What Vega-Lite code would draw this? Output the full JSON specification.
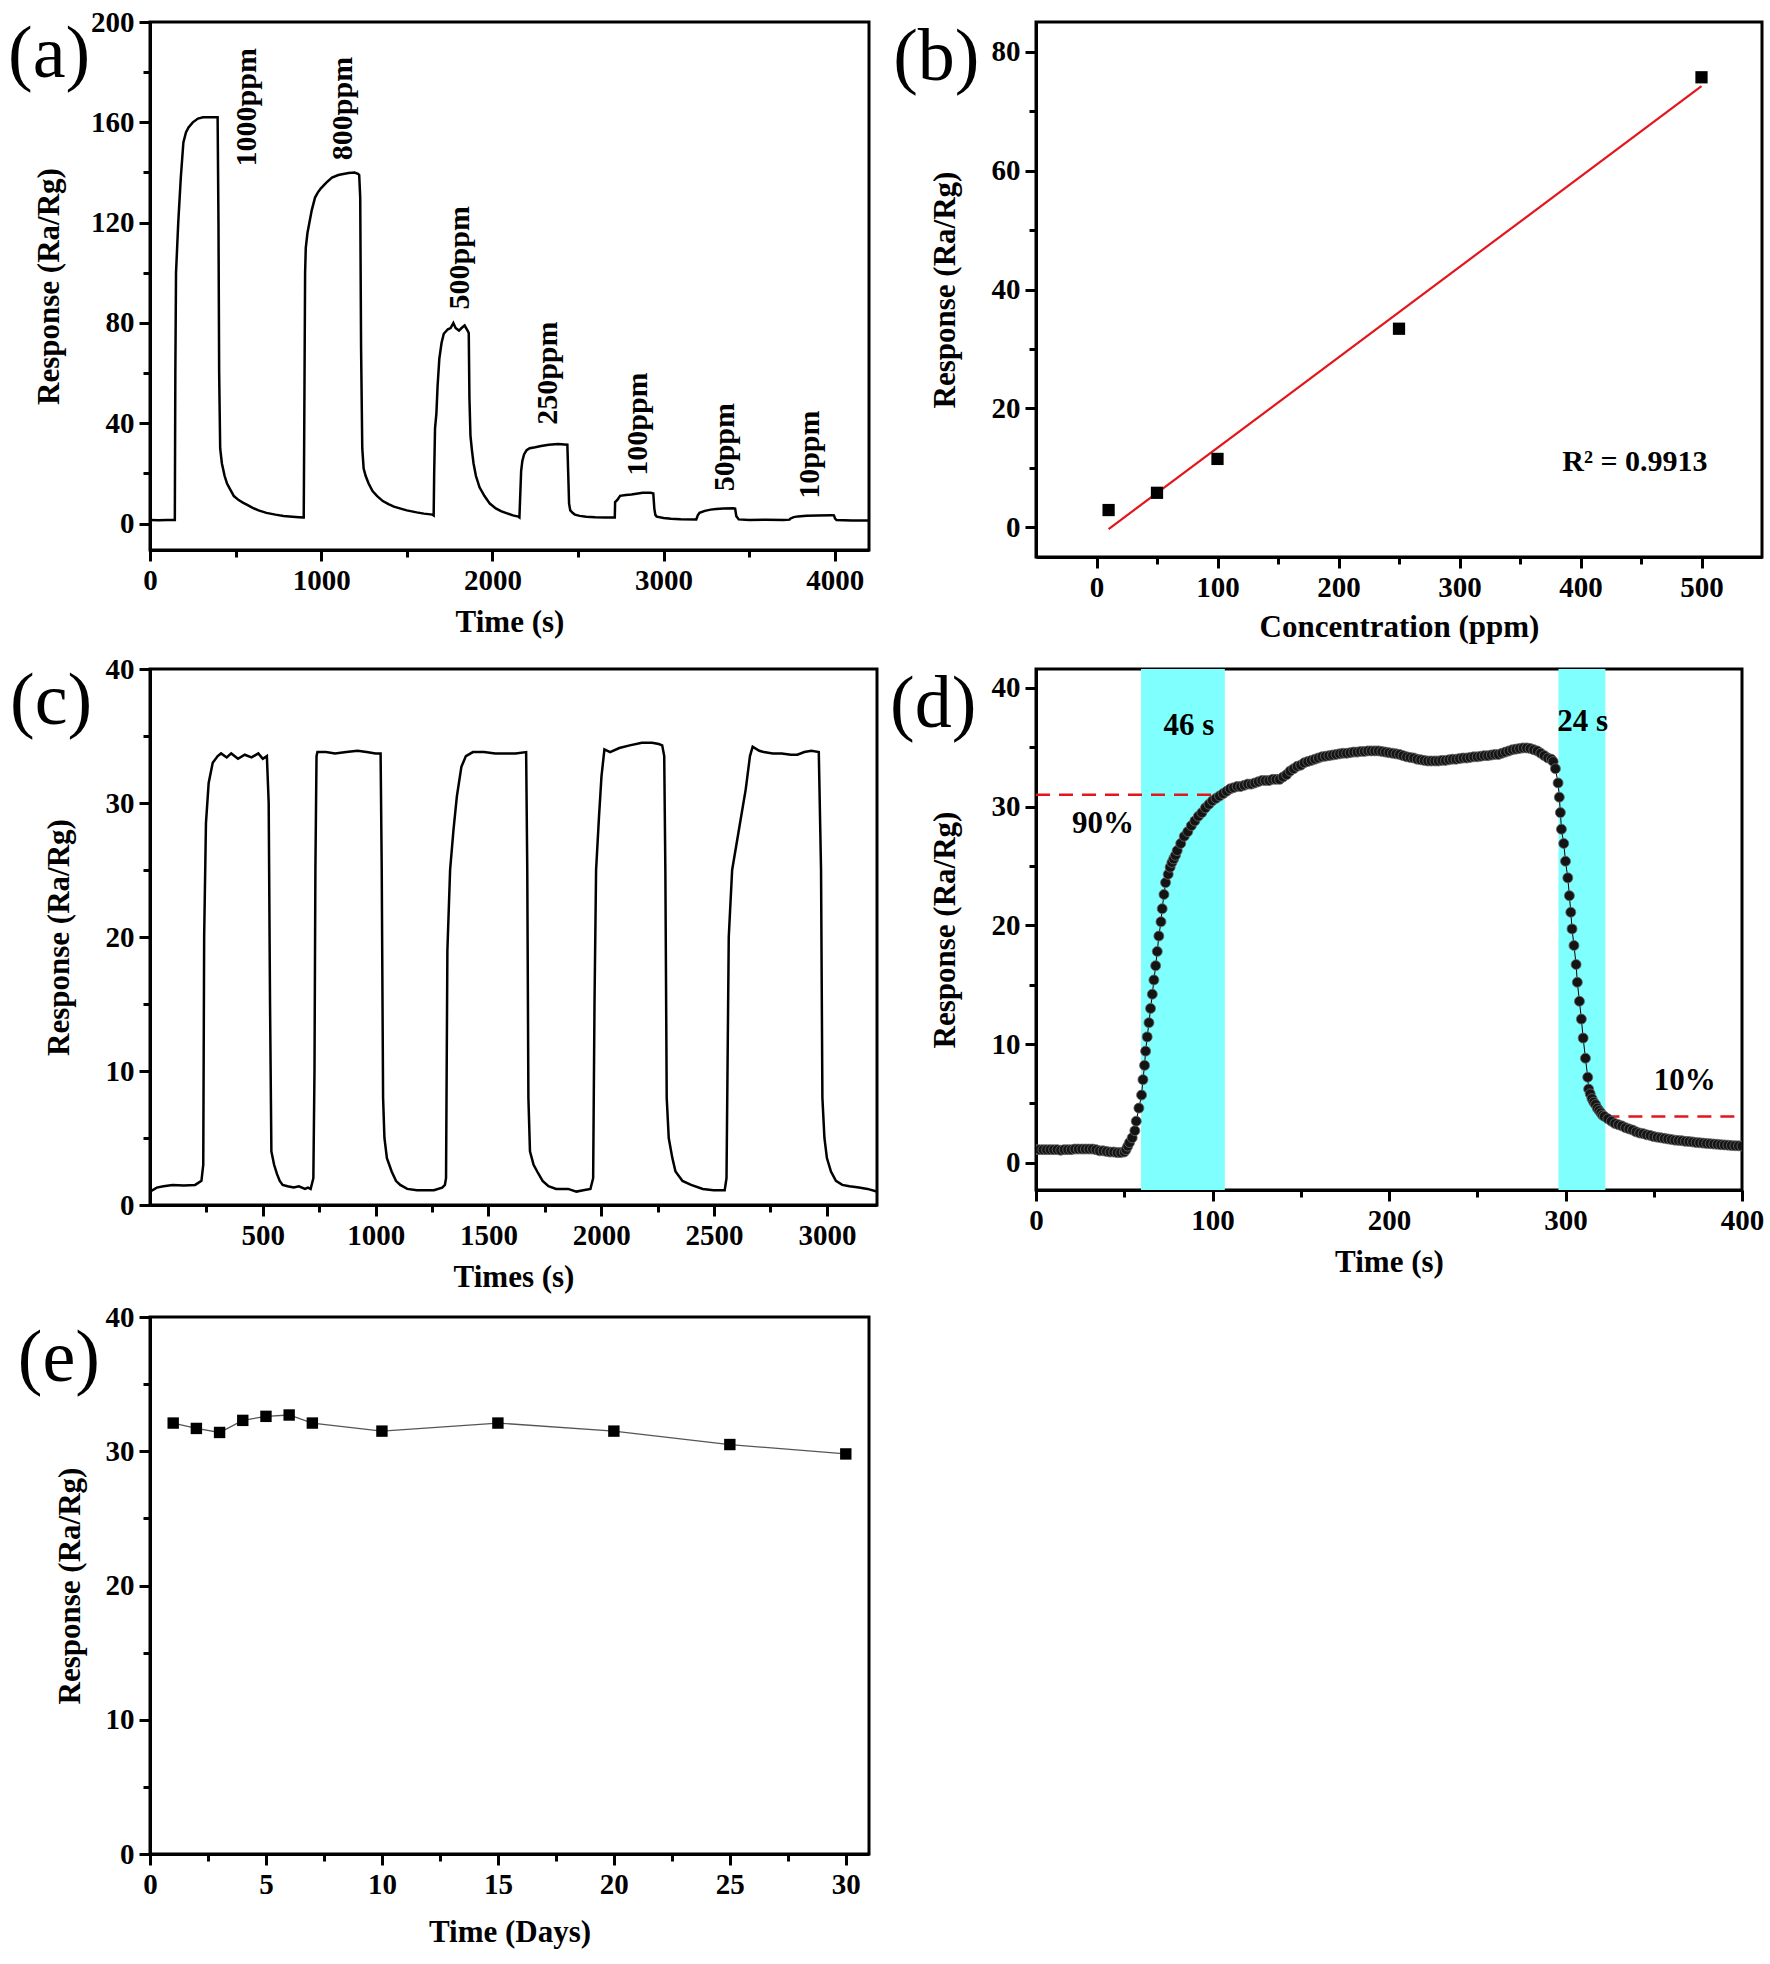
{
  "$schema": "https://vega.github.io/schema/vega-lite/v6.json",
  "background": "white",
  "padding": {"left": 6, "top": 6, "right": 5, "bottom": 5},
  "columns": 2,
  "bounds": "flush",
  "spacing": {"row": 112, "column": 159},
  "config": {
    "view": {"stroke": "black", "strokeWidth": 3},
    "axis": {"domainColor": "black", "domainWidth": 3, "tickColor": "black", "tickWidth": 3, "tickSize": 11, "labelFont": "Liberation Serif", "labelFontWeight": "bold", "labelFontSize": 29, "labelColor": "black", "labelPadding": 5, "titleFont": "Liberation Serif", "titleFontWeight": "bold", "titleFontSize": 31, "titleColor": "black", "grid": false, "labelFlush": false, "labelOverlap": false},
    "text": {"font": "Liberation Serif", "color": "black"}
  },
  "datasets": {
    "a": [
      {"t":0,"v":1.5},{"t":50,"v":1.4},{"t":100,"v":1.5},{"t":145,"v":1.5},{"t":148,"v":60},{"t":152,"v":100},{"t":165,"v":120},{"t":180,"v":138},{"t":195,"v":152},{"t":210,"v":156},{"t":225,"v":158},{"t":250,"v":160},{"t":280,"v":161.5},{"t":310,"v":162},{"t":350,"v":162},{"t":395,"v":162},{"t":400,"v":120},{"t":404,"v":60},{"t":410,"v":30},{"t":420,"v":24},{"t":436,"v":19},{"t":450,"v":16},{"t":469,"v":13.6},{"t":490,"v":11},{"t":518,"v":9.4},{"t":545,"v":8.3},{"t":568,"v":7.5},{"t":600,"v":6.3},{"t":634,"v":5.3},{"t":680,"v":4.3},{"t":733,"v":3.6},{"t":780,"v":3.1},{"t":832,"v":2.8},{"t":870,"v":2.6},{"t":895,"v":2.5},
      {"t":898,"v":2.5},{"t":902,"v":50},{"t":906,"v":100},{"t":910,"v":110},{"t":920,"v":116},{"t":931,"v":120},{"t":945,"v":125},{"t":964,"v":130},{"t":980,"v":132},{"t":997,"v":133.6},{"t":1030,"v":136},{"t":1063,"v":138},{"t":1100,"v":139},{"t":1129,"v":139.4},{"t":1160,"v":139.8},{"t":1195,"v":140},{"t":1215,"v":139.5},{"t":1222,"v":139},{"t":1228,"v":130},{"t":1233,"v":70},{"t":1240,"v":30},{"t":1248,"v":22},{"t":1260,"v":19},{"t":1277,"v":16},{"t":1300,"v":13},{"t":1327,"v":11},{"t":1360,"v":9},{"t":1393,"v":7.8},{"t":1425,"v":6.8},{"t":1459,"v":6.1},{"t":1500,"v":5.3},{"t":1558,"v":4.5},{"t":1600,"v":4.0},{"t":1650,"v":3.6},
      {"t":1657,"v":3.3},{"t":1660,"v":20},{"t":1665,"v":38},{"t":1673,"v":44},{"t":1680,"v":55},{"t":1690,"v":65.7},{"t":1703,"v":72},{"t":1716,"v":75.7},{"t":1740,"v":77.5},{"t":1756,"v":78},{"t":1772,"v":80},{"t":1785,"v":78},{"t":1805,"v":77},{"t":1820,"v":78},{"t":1838,"v":79},{"t":1855,"v":77},{"t":1862,"v":76},{"t":1866,"v":50},{"t":1872,"v":35},{"t":1881,"v":29},{"t":1890,"v":24},{"t":1904,"v":19},{"t":1925,"v":14.5},{"t":1954,"v":11},{"t":1985,"v":8},{"t":2020,"v":6.1},{"t":2050,"v":5.0},{"t":2086,"v":4.1},{"t":2120,"v":3.3},{"t":2152,"v":2.8},
      {"t":2158,"v":2.5},{"t":2162,"v":10},{"t":2168,"v":21},{"t":2175,"v":25},{"t":2185,"v":27.6},{"t":2200,"v":29.3},{"t":2218,"v":30.1},{"t":2250,"v":30.5},{"t":2284,"v":31},{"t":2330,"v":31.5},{"t":2383,"v":31.8},{"t":2420,"v":31.6},{"t":2438,"v":31.5},{"t":2443,"v":20},{"t":2448,"v":8},{"t":2455,"v":5.3},{"t":2470,"v":4.2},{"t":2482,"v":3.6},{"t":2510,"v":3.1},{"t":2548,"v":2.8},{"t":2600,"v":2.6},{"t":2660,"v":2.5},{"t":2713,"v":2.5},
      {"t":2715,"v":2.5},{"t":2717,"v":8.6},{"t":2730,"v":9.5},{"t":2746,"v":11.1},{"t":2780,"v":11.4},{"t":2812,"v":11.6},{"t":2850,"v":12.0},{"t":2878,"v":12.3},{"t":2925,"v":12.3},{"t":2940,"v":12},{"t":2946,"v":6},{"t":2952,"v":3.5},{"t":2960,"v":2.8},{"t":3000,"v":2.3},{"t":3043,"v":2.0},{"t":3100,"v":1.8},{"t":3191,"v":1.7},
      {"t":3200,"v":3.3},{"t":3210,"v":4.3},{"t":3241,"v":5.1},{"t":3275,"v":5.6},{"t":3307,"v":5.8},{"t":3350,"v":6.0},{"t":3406,"v":6.1},{"t":3418,"v":6.0},{"t":3425,"v":3.0},{"t":3439,"v":1.7},{"t":3500,"v":1.5},{"t":3600,"v":1.6},{"t":3700,"v":1.5},{"t":3736,"v":1.6},
      {"t":3740,"v":2.0},{"t":3760,"v":2.6},{"t":3785,"v":2.9},{"t":3835,"v":3.2},{"t":3900,"v":3.3},{"t":3983,"v":3.4},{"t":3995,"v":3.3},{"t":4002,"v":2.0},{"t":4010,"v":1.5},{"t":4100,"v":1.3},{"t":4200,"v":1.3}
    ],
    "a_lab": [
      {"t":565,"v":166,"label":"1000ppm"},{"t":1125,"v":165.5,"label":"800ppm"},{"t":1810,"v":106,"label":"500ppm"},{"t":2325,"v":60,"label":"250ppm"},{"t":2853,"v":39.7,"label":"100ppm"},{"t":3360,"v":30.5,"label":"50ppm"},{"t":3858,"v":27.5,"label":"10ppm"}
    ],
    "b_pts": [
      {"c":10,"r":2.9},{"c":50,"r":5.8},{"c":100,"r":11.5},{"c":250,"r":33.4},{"c":500,"r":75.7}
    ],
    "b_fit": [
      {"c":10,"r":-0.3},{"c":500,"r":74.2}
    ],
    "c": [
      {"t":0,"v":1.0},{"t":30,"v":1.3},{"t":60,"v":1.4},{"t":100,"v":1.5},{"t":150,"v":1.45},{"t":200,"v":1.5},{"t":228,"v":1.8},{"t":236,"v":3},{"t":240,"v":20},{"t":248,"v":28.5},{"t":260,"v":31.5},{"t":278,"v":33},{"t":300,"v":33.5},{"t":315,"v":33.7},{"t":340,"v":33.4},{"t":360,"v":33.7},{"t":390,"v":33.3},{"t":420,"v":33.6},{"t":450,"v":33.4},{"t":480,"v":33.7},{"t":500,"v":33.3},{"t":518,"v":33.5},{"t":526,"v":30},{"t":532,"v":15},{"t":538,"v":4},{"t":550,"v":3},{"t":563,"v":2.3},{"t":575,"v":1.8},{"t":588,"v":1.5},{"t":610,"v":1.4},{"t":637,"v":1.3},{"t":660,"v":1.4},{"t":687,"v":1.2},{"t":700,"v":1.3},{"t":712,"v":1.2},
      {"t":724,"v":2},{"t":729,"v":10},{"t":733,"v":25},{"t":738,"v":33.5},{"t":742,"v":33.8},{"t":780,"v":33.8},{"t":820,"v":33.7},{"t":870,"v":33.8},{"t":920,"v":33.9},{"t":960,"v":33.8},{"t":1000,"v":33.7},{"t":1022,"v":33.7},{"t":1027,"v":25},{"t":1033,"v":8},{"t":1039,"v":5},{"t":1050,"v":3.5},{"t":1071,"v":2.5},{"t":1090,"v":1.8},{"t":1109,"v":1.5},{"t":1140,"v":1.2},{"t":1183,"v":1.1},{"t":1220,"v":1.1},{"t":1258,"v":1.1},{"t":1295,"v":1.3},{"t":1307,"v":1.5},
      {"t":1312,"v":2},{"t":1318,"v":19},{"t":1330,"v":25},{"t":1345,"v":28},{"t":1360,"v":30.5},{"t":1380,"v":32.7},{"t":1400,"v":33.5},{"t":1431,"v":33.8},{"t":1480,"v":33.8},{"t":1530,"v":33.7},{"t":1580,"v":33.7},{"t":1620,"v":33.7},{"t":1667,"v":33.8},{"t":1672,"v":25},{"t":1677,"v":8},{"t":1684,"v":4},{"t":1700,"v":3},{"t":1716,"v":2.5},{"t":1740,"v":1.8},{"t":1766,"v":1.4},{"t":1800,"v":1.2},{"t":1853,"v":1.2},{"t":1890,"v":1.0},{"t":1920,"v":1.1},{"t":1952,"v":1.2},
      {"t":1964,"v":2},{"t":1970,"v":15},{"t":1977,"v":25},{"t":1990,"v":29},{"t":2001,"v":32},{"t":2014,"v":34},{"t":2039,"v":33.8},{"t":2080,"v":34.1},{"t":2126,"v":34.3},{"t":2180,"v":34.5},{"t":2225,"v":34.5},{"t":2255,"v":34.4},{"t":2270,"v":34.3},{"t":2279,"v":33.5},{"t":2284,"v":25},{"t":2290,"v":8},{"t":2299,"v":5},{"t":2315,"v":3.5},{"t":2329,"v":2.5},{"t":2360,"v":1.8},{"t":2398,"v":1.5},{"t":2450,"v":1.2},{"t":2498,"v":1.1},{"t":2547,"v":1.1},
      {"t":2555,"v":2},{"t":2565,"v":20},{"t":2580,"v":25},{"t":2610,"v":28},{"t":2640,"v":31},{"t":2659,"v":33.5},{"t":2671,"v":34.2},{"t":2700,"v":33.9},{"t":2720,"v":33.8},{"t":2760,"v":33.7},{"t":2800,"v":33.7},{"t":2840,"v":33.6},{"t":2869,"v":33.6},{"t":2900,"v":33.8},{"t":2931,"v":33.9},{"t":2964,"v":33.8},{"t":2974,"v":25},{"t":2980,"v":8},{"t":2989,"v":5},{"t":3000,"v":3.5},{"t":3018,"v":2.5},{"t":3040,"v":1.8},{"t":3068,"v":1.5},{"t":3100,"v":1.4},{"t":3142,"v":1.3},{"t":3180,"v":1.2},{"t":3221,"v":1.0}
    ],
    "d": [
      {"t":0,"v":1.1},{"t":2,"v":1.1},{"t":4,"v":1.1},{"t":6,"v":1.1},{"t":8,"v":1.1},{"t":10,"v":1.1},{"t":12,"v":1.1},{"t":14,"v":1.05},{"t":16,"v":1.1},{"t":18,"v":1.1},{"t":20,"v":1.1},{"t":22,"v":1.15},{"t":24,"v":1.15},{"t":26,"v":1.15},{"t":28,"v":1.15},{"t":30,"v":1.15},{"t":32,"v":1.15},{"t":34,"v":1.1},{"t":36,"v":1.0},{"t":38,"v":1.0},{"t":40,"v":0.95},{"t":42,"v":0.9},{"t":44,"v":0.9},{"t":46,"v":0.85},{"t":48,"v":0.85},{"t":50,"v":0.9},{"t":51,"v":1.1},{"t":52,"v":1.4},{"t":53,"v":1.7},{"t":54.5,"v":2.1},{"t":56,"v":2.7},{"t":56.8,"v":3.5},{"t":58.3,"v":4.6},{"t":59.8,"v":5.7},{"t":60.6,"v":7.0},{"t":61.5,"v":8.2},{"t":62.1,"v":9.4},{"t":63.0,"v":10.6},{"t":64.0,"v":11.8},{"t":64.9,"v":13.0},{"t":65.9,"v":14.2},{"t":66.8,"v":15.4},{"t":67.8,"v":16.6},{"t":68.7,"v":17.8},{"t":69.6,"v":19.1},{"t":70.8,"v":20.3},{"t":71.5,"v":21.4},{"t":72.5,"v":22.6},{"t":73.4,"v":23.6},{"t":74.9,"v":24.3},{"t":76,"v":24.9},{"t":77,"v":25.3},{"t":78,"v":25.6},{"t":79,"v":25.9},{"t":80,"v":26.3},{"t":82,"v":26.9},{"t":84,"v":27.5},{"t":86,"v":27.9},{"t":88,"v":28.4},{"t":90,"v":28.8},{"t":92,"v":29.2},{"t":94,"v":29.5},{"t":96,"v":29.9},{"t":98,"v":30.2},{"t":100,"v":30.5},{"t":102,"v":30.7},{"t":104,"v":30.9},{"t":106,"v":31.1},{"t":108,"v":31.3},{"t":110,"v":31.5},{"t":112,"v":31.6},{"t":114,"v":31.7},{"t":116,"v":31.7},{"t":118,"v":31.8},{"t":120,"v":31.9},{"t":122,"v":31.9},{"t":124,"v":32.0},{"t":126,"v":32.1},{"t":128,"v":32.2},{"t":130,"v":32.2},{"t":132,"v":32.2},{"t":134,"v":32.3},{"t":136,"v":32.3},{"t":138,"v":32.3},{"t":140,"v":32.5},{"t":142,"v":32.7},{"t":144,"v":33.0},{"t":146,"v":33.2},{"t":148,"v":33.4},{"t":150,"v":33.5},{"t":152,"v":33.7},{"t":154,"v":33.8},{"t":156,"v":33.9},{"t":158,"v":34.0},{"t":160,"v":34.1},{"t":162,"v":34.2},{"t":164,"v":34.25},{"t":166,"v":34.3},{"t":168,"v":34.35},{"t":170,"v":34.4},{"t":172,"v":34.45},{"t":174,"v":34.5},{"t":176,"v":34.5},{"t":178,"v":34.55},{"t":180,"v":34.6},{"t":182,"v":34.6},{"t":184,"v":34.65},{"t":186,"v":34.65},{"t":188,"v":34.7},{"t":190,"v":34.7},{"t":192,"v":34.7},{"t":194,"v":34.7},{"t":196,"v":34.65},{"t":198,"v":34.6},{"t":200,"v":34.55},{"t":202,"v":34.5},{"t":204,"v":34.45},{"t":206,"v":34.4},{"t":208,"v":34.3},{"t":210,"v":34.2},{"t":212,"v":34.15},{"t":214,"v":34.1},{"t":216,"v":34.0},{"t":218,"v":33.95},{"t":220,"v":33.9},{"t":222,"v":33.85},{"t":224,"v":33.85},{"t":226,"v":33.85},{"t":228,"v":33.85},{"t":230,"v":33.9},{"t":232,"v":33.9},{"t":234,"v":33.95},{"t":236,"v":34.0},{"t":238,"v":34.0},{"t":240,"v":34.05},{"t":242,"v":34.1},{"t":244,"v":34.1},{"t":246,"v":34.15},{"t":248,"v":34.2},{"t":250,"v":34.2},{"t":252,"v":34.25},{"t":254,"v":34.3},{"t":256,"v":34.3},{"t":258,"v":34.35},{"t":260,"v":34.4},{"t":262,"v":34.4},{"t":264,"v":34.5},{"t":266,"v":34.6},{"t":268,"v":34.7},{"t":270,"v":34.8},{"t":272,"v":34.85},{"t":274,"v":34.9},{"t":276,"v":34.95},{"t":278,"v":34.95},{"t":280,"v":34.9},{"t":282,"v":34.8},{"t":284,"v":34.7},{"t":286,"v":34.5},{"t":288,"v":34.3},{"t":290,"v":34.1},{"t":292,"v":34.0},{"t":293,"v":33.8},{"t":294.3,"v":33.2},{"t":295.8,"v":32.0},{"t":296.5,"v":30.8},{"t":297.1,"v":29.5},{"t":297.7,"v":28.1},{"t":299.0,"v":26.9},{"t":300.0,"v":25.4},{"t":301.3,"v":24.0},{"t":302.2,"v":22.5},{"t":303.0,"v":21.1},{"t":303.7,"v":19.7},{"t":304.8,"v":18.3},{"t":306.0,"v":16.7},{"t":306.7,"v":15.2},{"t":307.9,"v":13.6},{"t":309.0,"v":12.1},{"t":310.0,"v":10.5},{"t":311.3,"v":8.8},{"t":312.6,"v":7.2},{"t":313.1,"v":6.2},{"t":314,"v":5.8},{"t":315,"v":5.4},{"t":316,"v":5.1},{"t":317,"v":4.9},{"t":318,"v":4.6},{"t":319,"v":4.4},{"t":320,"v":4.2},{"t":321,"v":4.0},{"t":322,"v":3.9},{"t":324,"v":3.7},{"t":326,"v":3.5},{"t":328,"v":3.3},{"t":330,"v":3.2},{"t":332,"v":3.1},{"t":334,"v":2.95},{"t":336,"v":2.85},{"t":338,"v":2.75},{"t":340,"v":2.6},{"t":342,"v":2.5},{"t":344,"v":2.45},{"t":346,"v":2.35},{"t":348,"v":2.3},{"t":350,"v":2.2},{"t":352,"v":2.15},{"t":354,"v":2.1},{"t":356,"v":2.05},{"t":358,"v":2.0},{"t":360,"v":1.95},{"t":362,"v":1.9},{"t":364,"v":1.88},{"t":366,"v":1.85},{"t":368,"v":1.8},{"t":370,"v":1.78},{"t":372,"v":1.75},{"t":374,"v":1.7},{"t":376,"v":1.68},{"t":378,"v":1.65},{"t":380,"v":1.62},{"t":382,"v":1.6},{"t":384,"v":1.57},{"t":386,"v":1.55},{"t":388,"v":1.52},{"t":390,"v":1.5},{"t":392,"v":1.48},{"t":394,"v":1.45},{"t":396,"v":1.43},{"t":398,"v":1.42},{"t":400,"v":1.4}
    ],
    "d_band": [{"t":59.5,"t2":107},{"t":296,"t2":322.6}],
    "d_rule": [{"t":0,"t2":107,"v":31},{"t":322.6,"t2":400,"v":3.9}],
    "d_lab": [{"t":86.7,"v":36.8,"label":"46 s"},{"t":309.7,"v":37.1,"label":"24 s"},{"t":37.9,"v":28.5,"label":"90%"},{"t":367.5,"v":6.9,"label":"10%"}],
    "e": [
      {"day":1,"r":32.1},{"day":2,"r":31.7},{"day":3,"r":31.4},{"day":4,"r":32.3},{"day":5,"r":32.6},{"day":6,"r":32.7},{"day":7,"r":32.1},{"day":10,"r":31.5},{"day":15,"r":32.1},{"day":20,"r":31.5},{"day":25,"r":30.5},{"day":30,"r":29.8}
    ]
  },
  "concat": [
    {
      "width": 719, "height": 528,
      "layer": [
        {
          "data": {"name": "a"},
          "mark": {"type": "line", "color": "black", "strokeWidth": 2.5, "clip": true},
          "encoding": {
            "x": {"field": "t", "type": "quantitative", "title": "Time (s)", "scale": {"domain": [0, 4200], "nice": false, "zero": false},
              "axis": {"values": [0,500,1000,1500,2000,2500,3000,3500,4000], "format": "d", "labelExpr": "datum.value % 1000 === 0 ? datum.label : ''", "tickSize": {"condition": {"test": "datum.value % 1000 === 0", "value": 11}, "value": 7}, "titlePadding": 12}},
            "y": {"field": "v", "type": "quantitative", "title": "Response (Ra/Rg)", "scale": {"domain": [-10.5, 200], "nice": false, "zero": false},
              "axis": {"values": [0,20,40,60,80,100,120,140,160,180,200], "format": "d", "labelExpr": "datum.value % 40 === 0 ? datum.label : ''", "tickSize": {"condition": {"test": "datum.value % 40 === 0", "value": 11}, "value": 7}, "titlePadding": 25}}
          }
        },
        {
          "data": {"name": "a_lab"},
          "mark": {"type": "text", "angle": 270, "fontSize": 30, "fontWeight": "bold", "align": "center", "baseline": "middle"},
          "encoding": {
            "x": {"field": "t", "type": "quantitative", "title": "Time (s)"},
            "y": {"field": "v", "type": "quantitative", "title": "Response (Ra/Rg)"},
            "text": {"field": "label"}
          }
        },
        {
          "data": {"values": [{}]},
          "mark": {"type": "text", "fontSize": 74, "align": "left", "baseline": "alphabetic"},
          "encoding": {"x": {"datum": -829}, "y": {"datum": 178}, "text": {"value": "(a)"}}
        }
      ]
    },
    {
      "width": 726, "height": 535,
      "layer": [
        {
          "data": {"name": "b_fit"},
          "mark": {"type": "line", "color": "#e3161c", "strokeWidth": 2.2},
          "encoding": {
            "x": {"field": "c", "type": "quantitative", "title": "Concentration (ppm)", "scale": {"domain": [-50, 550], "nice": false, "zero": false},
              "axis": {"values": [0,50,100,150,200,250,300,350,400,450,500], "format": "d", "labelExpr": "datum.value % 100 === 0 ? datum.label : ''", "tickSize": {"condition": {"test": "datum.value % 100 === 0", "value": 11}, "value": 7}, "titlePadding": 10}},
            "y": {"field": "r", "type": "quantitative", "title": "Response (Ra/Rg)", "scale": {"domain": [-5, 85], "nice": false, "zero": false},
              "axis": {"values": [0,10,20,30,40,50,60,70,80], "format": "d", "labelExpr": "datum.value % 20 === 0 ? datum.label : ''", "tickSize": {"condition": {"test": "datum.value % 20 === 0", "value": 11}, "value": 7}, "titlePadding": 30}}
          }
        },
        {
          "data": {"name": "b_pts"},
          "mark": {"type": "square", "color": "black", "filled": true, "opacity": 1, "size": 150},
          "encoding": {
            "x": {"field": "c", "type": "quantitative", "title": "Concentration (ppm)"},
            "y": {"field": "r", "type": "quantitative", "title": "Response (Ra/Rg)"}
          }
        },
        {
          "data": {"values": [{}]},
          "mark": {"type": "text", "fontSize": 30, "fontWeight": "bold", "align": "center", "baseline": "middle"},
          "encoding": {"x": {"datum": 445}, "y": {"datum": 10.9}, "text": {"value": "R² = 0.9913"}}
        },
        {
          "data": {"values": [{}]},
          "mark": {"type": "text", "fontSize": 74, "align": "left", "baseline": "alphabetic"},
          "encoding": {"x": {"datum": -168}, "y": {"datum": 75.3}, "text": {"value": "(b)"}}
        }
      ]
    },
    {
      "width": 727, "height": 536,
      "layer": [
        {
          "data": {"name": "c"},
          "mark": {"type": "line", "color": "black", "strokeWidth": 2.5, "clip": true},
          "encoding": {
            "x": {"field": "t", "type": "quantitative", "title": "Times (s)", "scale": {"domain": [0, 3222], "nice": false, "zero": false},
              "axis": {"values": [250,500,750,1000,1250,1500,1750,2000,2250,2500,2750,3000], "format": "d", "labelExpr": "datum.value % 500 === 0 ? datum.label : ''", "tickSize": {"condition": {"test": "datum.value % 500 === 0", "value": 11}, "value": 7}, "titlePadding": 12}},
            "y": {"field": "v", "type": "quantitative", "title": "Response (Ra/Rg)", "scale": {"domain": [0, 40], "nice": false, "zero": false},
              "axis": {"values": [0,5,10,15,20,25,30,35,40], "format": "d", "labelExpr": "datum.value % 10 === 0 ? datum.label : ''", "tickSize": {"condition": {"test": "datum.value % 10 === 0", "value": 11}, "value": 7}, "titlePadding": 30}}
          }
        },
        {
          "data": {"values": [{}]},
          "mark": {"type": "text", "fontSize": 74, "align": "left", "baseline": "alphabetic"},
          "encoding": {"x": {"datum": -620}, "y": {"datum": 35.9}, "text": {"value": "(c)"}}
        }
      ]
    },
    {
      "width": 706, "height": 521,
      "layer": [
        {
          "data": {"name": "d_band"},
          "mark": {"type": "rect", "color": "#80ffff", "opacity": 1},
          "encoding": {
            "x": {"field": "t", "type": "quantitative", "title": "Time (s)", "scale": {"domain": [0, 400], "nice": false, "zero": false},
              "axis": {"values": [0,50,100,150,200,250,300,350,400], "format": "d", "labelExpr": "datum.value % 100 === 0 ? datum.label : ''", "tickSize": {"condition": {"test": "datum.value % 100 === 0", "value": 11}, "value": 7}, "titlePadding": 12}},
            "x2": {"field": "t2"}
          }
        },
        {
          "data": {"name": "d_rule"},
          "mark": {"type": "rule", "color": "#e3161c", "strokeWidth": 2.5, "strokeDash": [14, 9]},
          "encoding": {
            "x": {"field": "t", "type": "quantitative", "title": "Time (s)"},
            "x2": {"field": "t2"},
            "y": {"field": "v", "type": "quantitative", "title": "Response (Ra/Rg)"}
          }
        },
        {
          "data": {"name": "d"},
          "mark": {"type": "line", "color": "black", "strokeWidth": 1, "clip": true},
          "encoding": {
            "x": {"field": "t", "type": "quantitative", "title": "Time (s)"},
            "y": {"field": "v", "type": "quantitative", "title": "Response (Ra/Rg)", "scale": {"domain": [-2.3, 41.6], "nice": false, "zero": false},
              "axis": {"values": [0,5,10,15,20,25,30,35,40], "format": "d", "labelExpr": "datum.value % 10 === 0 ? datum.label : ''", "tickSize": {"condition": {"test": "datum.value % 10 === 0", "value": 11}, "value": 7}, "titlePadding": 30}}
          }
        },
        {
          "data": {"name": "d"},
          "mark": {"type": "circle", "color": "#141414", "opacity": 1, "size": 100, "stroke": "#6a6a6a", "strokeWidth": 0.8, "clip": true},
          "encoding": {
            "x": {"field": "t", "type": "quantitative", "title": "Time (s)"},
            "y": {"field": "v", "type": "quantitative", "title": "Response (Ra/Rg)"}
          }
        },
        {
          "data": {"name": "d_lab"},
          "mark": {"type": "text", "fontSize": 31, "fontWeight": "bold", "align": "center", "baseline": "middle"},
          "encoding": {
            "x": {"field": "t", "type": "quantitative", "title": "Time (s)"},
            "y": {"field": "v", "type": "quantitative", "title": "Response (Ra/Rg)"},
            "text": {"field": "label"}
          }
        },
        {
          "data": {"values": [{}]},
          "mark": {"type": "text", "fontSize": 74, "align": "left", "baseline": "alphabetic"},
          "encoding": {"x": {"datum": -82.7}, "y": {"datum": 36.7}, "text": {"value": "(d)"}}
        }
      ]
    },
    {
      "width": 719, "height": 537,
      "layer": [
        {
          "data": {"name": "e"},
          "mark": {"type": "line", "color": "#555555", "strokeWidth": 1.3},
          "encoding": {
            "x": {"field": "day", "type": "quantitative", "title": "Time (Days)", "scale": {"domain": [0, 31], "nice": false, "zero": false},
              "axis": {"values": [0,2.5,5,7.5,10,12.5,15,17.5,20,22.5,25,27.5,30], "format": "d", "labelExpr": "datum.value % 5 === 0 ? datum.label : ''", "tickSize": {"condition": {"test": "datum.value % 5 === 0", "value": 11}, "value": 7}, "titlePadding": 18}},
            "y": {"field": "r", "type": "quantitative", "title": "Response (Ra/Rg)", "scale": {"domain": [0, 40], "nice": false, "zero": false},
              "axis": {"values": [0,5,10,15,20,25,30,35,40], "format": "d", "labelExpr": "datum.value % 10 === 0 ? datum.label : ''", "tickSize": {"condition": {"test": "datum.value % 10 === 0", "value": 11}, "value": 7}, "titlePadding": 19}}
          }
        },
        {
          "data": {"name": "e"},
          "mark": {"type": "square", "color": "black", "filled": true, "opacity": 1, "size": 130},
          "encoding": {
            "x": {"field": "day", "type": "quantitative", "title": "Time (Days)"},
            "y": {"field": "r", "type": "quantitative", "title": "Response (Ra/Rg)"}
          }
        },
        {
          "data": {"values": [{}]},
          "mark": {"type": "text", "fontSize": 74, "align": "left", "baseline": "alphabetic"},
          "encoding": {"x": {"datum": -5.7}, "y": {"datum": 35.2}, "text": {"value": "(e)"}}
        }
      ]
    }
  ]
}
